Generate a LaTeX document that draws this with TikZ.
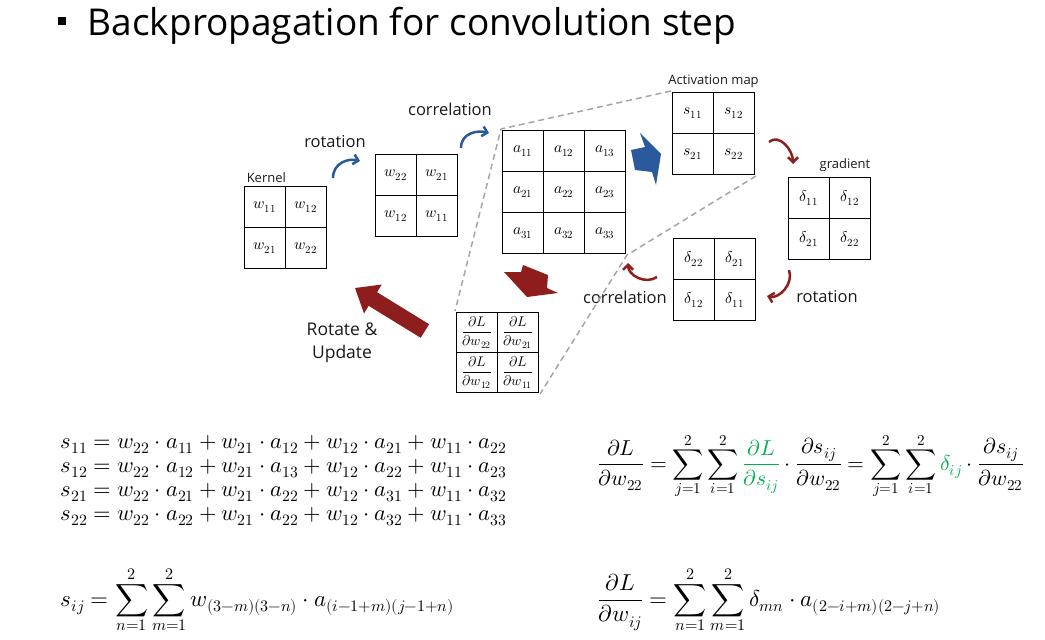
\documentclass[tikz,border=0pt]{standalone}
\usepackage{amsmath}
\usepackage{fontspec}
\usepackage{unicode-math}
\setmainfont{Open Sans}
\usetikzlibrary{matrix, positioning, arrows.meta}
\definecolor{cblue}{HTML}{2A5A9B}
\definecolor{cred}{HTML}{8E1E1E}
\definecolor{cgrey}{HTML}{A6A6A6}
\definecolor{cgreen}{HTML}{00B050}
\definecolor{ctext}{HTML}{1A1A1A}
\tikzset{
  every picture/.style={line width=1.5pt},
  grid/.style={matrix of math nodes, inner sep=0pt, column sep=-1.5pt, row sep=-1.5pt,
    nodes={draw, minimum width=41pt, minimum height=#1, anchor=center, inner sep=0pt,
      font=\fontsize{15.5}{17}\selectfont}},
  grid/.default=41pt,
  title/.style={font=\fontsize{37}{40}\selectfont, text=black, inner sep=0pt},
  lbl/.style={font=\fontsize{16.5}{19}\selectfont, text=ctext, inner sep=0pt, align=center},
  smalltxt/.style={font=\fontsize{13}{15}\selectfont, text=ctext, inner sep=1pt},
  guide/.style={draw=cgrey, dash pattern=on 6pt off 4pt, line width=1.5pt},
  bcurve/.style={draw=cblue, line width=2.5pt, -{Straight Barb[length=5pt, width=10pt]}},
  rcurve/.style={draw=cred, line width=2.5pt, -{Straight Barb[length=5pt, width=10pt]}},
  eqn/.style={font=\fontsize{22.5}{24}\selectfont, inner sep=0pt},
}
\begin{document}
\begin{tikzpicture}[x=1pt, y=-1pt]
  \useasboundingbox (0,0) rectangle (1045,640);
  % title
  \fill (58,17) rectangle (66,25);
  \node[title, anchor=base west] (ttl) at (87,35) {Backpropagation for convolution step};

  % matrices
  \matrix (kernel) [grid, anchor=north west] at (243,185) {
    w_{11} & w_{12} \\
    w_{21} & w_{22} \\
  };
  \matrix (rkernel) [grid, anchor=north west] at (374,153) {
    w_{22} & w_{21} \\
    w_{12} & w_{11} \\
  };
  \matrix (amap) [grid, anchor=north west] at (501,129) {
    a_{11} & a_{12} & a_{13} \\
    a_{21} & a_{22} & a_{23} \\
    a_{31} & a_{32} & a_{33} \\
  };
  \matrix (smap) [grid, anchor=north west] at (671,91) {
    s_{11} & s_{12} \\
    s_{21} & s_{22} \\
  };
  \matrix (dmap) [grid, anchor=north west] at (787,176) {
    \delta_{11} & \delta_{12} \\
    \delta_{21} & \delta_{22} \\
  };
  \matrix (rdmap) [grid, anchor=north west] at (672,237) {
    \delta_{22} & \delta_{21} \\
    \delta_{12} & \delta_{11} \\
  };
  \matrix (dlmap) [grid=40pt, anchor=north west, nodes={font=\fontsize{14}{15}\selectfont}] at (455,311) {
    \dfrac{\partial L}{\partial w_{22}} & \dfrac{\partial L}{\partial w_{21}} \\
    \dfrac{\partial L}{\partial w_{12}} & \dfrac{\partial L}{\partial w_{11}} \\
  };

  % labels
  \node[smalltxt, anchor=south west] (kernellbl) at ([xshift=2pt, yshift=1pt]kernel.north west) {Kernel};
  \node[smalltxt, above=2pt of smap] (smaplbl) {Activation map};
  \node[smalltxt, anchor=south east] (dmaplbl) at ([yshift=3pt]dmap.north east) {gradient};
  \node[lbl] (rotlbl) at (335,142) {rotation};
  \node[lbl] (corlbl) at (450,109) {correlation};
  \node[lbl] (corlbl2) at (625,297) {correlation};
  \node[lbl] (rotlbl2) at (827,297) {rotation};
  \node[lbl, font=\fontsize{17.5}{23}\selectfont] (updlbl) at (342,343) {Rotate \&\\Update};

  % dashed guides
  \draw[guide] (smap.north west) -- (amap.north west) -- (dlmap.north west);
  \draw[guide] (smap.south east) -- (amap.south east) -- (dlmap.south east);

  % curved arrows
  \coordinate (rotA) at (333,178); \coordinate (rotB) at (360,161);
  \coordinate (corA) at (461,148); \coordinate (corB) at (489,133);
  \coordinate (grA) at (769,142); \coordinate (grB) at (793,164);
  \coordinate (rdA) at (789,270); \coordinate (rdB) at (767,296);
  \coordinate (crA) at (657,277); \coordinate (crB) at (628,263);
  \draw[bcurve] (rotA) .. controls +(0,-15) and +(-12,-3) .. (rotB);
  \draw[bcurve] (corA) .. controls +(0,-15) and +(-12,-3) .. (corB);
  \draw[rcurve] (grA) .. controls +(10,-9) and +(0,-14) .. (grB);
  \draw[rcurve] (rdA) .. controls +(5,14) and +(12,3) .. (rdB);
  \draw[rcurve] (crA) .. controls +(-12,8) and +(0,12) .. (crB);

  % block arrows
  \fill[cblue] (631,150) -- (645,147) -- (640,133) -- (661,154) -- (656,185) -- (652,172) -- (635,170) -- cycle;
  \fill[cred] (523,265) -- (548,275) -- (547,288) -- (558,293) -- (527,297) -- (504,272) -- (521,272) -- cycle;
  \fill[cred] (355,288) -- (381.8,284.5) -- (377.1,292.2) -- (429.1,324.2) -- (420.7,337.8) -- (368.7,305.8) -- (364,313.5) -- cycle;

  % equations
  \foreach \sid/\ai/\aii/\aiii/\aiv [count=\k from 0] in {11/11/12/21/22, 12/12/13/22/23, 21/21/22/31/32, 22/22/22/32/33}
    \node[eqn, anchor=base west] (seq\sid) at (60,448+24*\k)
      {$s_{\sid} = w_{22}\cdot a_{\ai} + w_{21}\cdot a_{\aii} + w_{12}\cdot a_{\aiii} + w_{11}\cdot a_{\aiv}$};
  \node[eqn, anchor=west, font=\fontsize{21.6}{24}\selectfont] (dweq) at (597,466)
    {$\displaystyle \frac{\partial L}{\partial w_{22}} = \sum_{j=1}^{2}\sum_{i=1}^{2}\textcolor{cgreen}{\frac{\partial L}{\partial s_{ij}}}\cdot\frac{\partial s_{ij}}{\partial w_{22}} = \sum_{j=1}^{2}\sum_{i=1}^{2}\textcolor{cgreen}{\delta_{ij}}\cdot\frac{\partial s_{ij}}{\partial w_{22}}$};
  \node[eqn, anchor=west, font=\fontsize{23}{24}\selectfont] (sijeq) at (60,600)
    {$\displaystyle s_{ij} = \sum_{n=1}^{2}\sum_{m=1}^{2} w_{(3-m)(3-n)}\cdot a_{(i-1+m)(j-1+n)}$};
  \node[eqn, anchor=west, font=\fontsize{23}{24}\selectfont] (dwijeq) at (597,600)
    {$\displaystyle \frac{\partial L}{\partial w_{ij}} = \sum_{n=1}^{2}\sum_{m=1}^{2}\delta_{mn}\cdot a_{(2-i+m)(2-j+n)}$};
\end{tikzpicture}
\end{document}
